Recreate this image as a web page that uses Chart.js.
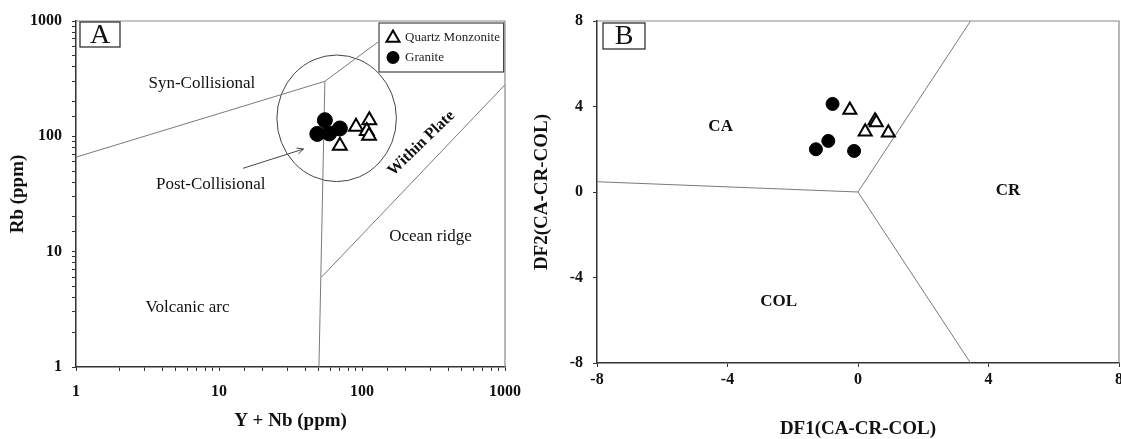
<!DOCTYPE html>
<html>
<head>
<meta charset="utf-8">
<script src="https://cdn.jsdelivr.net/npm/chart.js@4.4.1/dist/chart.umd.min.js"></script>
<style>
  body { margin: 0; background: #fff; width: 1121px; height: 439px; overflow: hidden; position: relative; }
  #wrapA { position: absolute; left: 0; top: 0; width: 560px; height: 439px; }
  #wrapB { position: absolute; left: 510px; top: 0; width: 631px; height: 439px; }
</style>
</head>
<body>
<div id="wrapA"><canvas id="chartA"></canvas></div>
<div id="wrapB"><canvas id="chartB"></canvas></div>
<script>
// ---- Panel A: Rb vs (Y+Nb), log-log ----
const quartzMonzoniteA = [[90.8, 121], [112.5, 138], [108, 111], [112, 101], [70, 83]];
const graniteA = [[55, 138], [48.7, 105], [59, 106], [70, 117]];
const synColLine = [[1, 66], [55, 300], [130, 660]];
const vagLine = [[55, 300], [50, 1]];
const wpgOrgLine = [[52, 6], [1000, 280]];
const postColCircle = { xMin: 25.4, xMax: 174, yMin: 40.5, yMax: 507 };
const postColArrow = [[14.7, 52.8], [39, 77.6]];
const logTicksA = [1, 10, 100, 1000];

// ---- Panel B: DF1 vs DF2 ----
const quartzMonzoniteB = [[-0.25, 3.84], [0.52, 3.33], [0.56, 3.25], [0.22, 2.82], [0.93, 2.77]];
const graniteB = [[-0.78, 4.12], [-0.91, 2.39], [-1.29, 2.0], [-0.12, 1.92]];
const caColLine = [[-8, 0.48], [0, 0]];
const caCrLine = [[0, 0], [3.45, 8]];
const colCrLine = [[0, 0], [3.45, -8]];
const linTicksB = [-8, -4, 0, 4, 8];

const serif = "'Liberation Serif', 'Times New Roman', serif";
Chart.defaults.font.family = serif;
Chart.defaults.color = '#111';
Chart.defaults.animation = false;

const pts = arr => arr.map(([x, y]) => ({ x, y }));

function boundary(arr) {
  return {
    data: pts(arr), showLine: true, fill: false,
    borderColor: '#7a7a7a', borderWidth: 1,
    pointRadius: 0, pointHoverRadius: 0
  };
}

function triangle(ctx, cx, cy, r) {
  ctx.beginPath();
  for (let i = 0; i < 3; i++) {
    const a = -Math.PI / 2 + i * 2 * Math.PI / 3;
    const px = cx + r * Math.cos(a), py = cy + r * Math.sin(a);
    i ? ctx.lineTo(px, py) : ctx.moveTo(px, py);
  }
  ctx.closePath();
}

// circle, arrow, region names, panel letter, legend box
const annotate = {
  id: 'annotate',
  beforeDatasetsDraw(chart, args, o) {
    const { ctx, scales: { x, y } } = chart;
    ctx.save();
    ctx.strokeStyle = '#444';
    ctx.lineWidth = 1;
    if (o.circle) {
      const l = x.getPixelForValue(o.circle.xMin), r = x.getPixelForValue(o.circle.xMax);
      const t = y.getPixelForValue(o.circle.yMax), b = y.getPixelForValue(o.circle.yMin);
      ctx.beginPath();
      ctx.ellipse((l + r) / 2, (t + b) / 2, (r - l) / 2, (b - t) / 2, 0, 0, Math.PI * 2);
      ctx.stroke();
    }
    if (o.arrow) {
      const [p0, p1] = o.arrow.map(([vx, vy]) => [x.getPixelForValue(vx), y.getPixelForValue(vy)]);
      ctx.beginPath(); ctx.moveTo(p0[0], p0[1]); ctx.lineTo(p1[0], p1[1]); ctx.stroke();
      const ang = Math.atan2(p1[1] - p0[1], p1[0] - p0[0]);
      ctx.beginPath();
      ctx.moveTo(p1[0] - 7 * Math.cos(ang - 0.45), p1[1] - 7 * Math.sin(ang - 0.45));
      ctx.lineTo(p1[0], p1[1]);
      ctx.lineTo(p1[0] - 7 * Math.cos(ang + 0.45), p1[1] - 7 * Math.sin(ang + 0.45));
      ctx.stroke();
    }
    ctx.restore();
  },
  afterDraw(chart, args, o) {
    const { ctx, chartArea: a, scales: { x, y } } = chart;
    ctx.save();
    // top and right frame
    ctx.strokeStyle = '#8a8a8a';
    ctx.lineWidth = 1.2;
    ctx.beginPath();
    ctx.moveTo(a.left, a.top); ctx.lineTo(a.right, a.top); ctx.lineTo(a.right, a.bottom);
    ctx.stroke();

    ctx.fillStyle = '#111';
    ctx.textAlign = 'center';
    ctx.textBaseline = 'middle';
    o.labels.forEach(l => {
      ctx.save();
      ctx.translate(x.getPixelForValue(l.x), y.getPixelForValue(l.y));
      if (l.rotate) ctx.rotate(l.rotate * Math.PI / 180);
      ctx.font = l.font;
      ctx.fillText(l.text, 0, 0);
      ctx.restore();
    });

    // panel letter box
    const p = o.panel;
    const bx = a.left + p.dx, by = a.top + p.dy;
    ctx.fillStyle = '#fff';
    ctx.fillRect(bx, by, p.w, p.h);
    ctx.strokeStyle = '#333';
    ctx.lineWidth = 1.3;
    ctx.strokeRect(bx, by, p.w, p.h);
    ctx.fillStyle = '#111';
    ctx.font = '28px ' + serif;
    ctx.fillText(p.text, bx + p.w / 2, by + p.h / 2 + 1);

    if (o.legend) {
      const lx = a.right - 126, ly = a.top + 2, lw = 124.6, lh = 49;
      ctx.fillStyle = '#fff';
      ctx.fillRect(lx, ly, lw, lh);
      ctx.strokeStyle = '#444';
      ctx.lineWidth = 1.2;
      ctx.strokeRect(lx, ly, lw, lh);
      // triangle entry
      ctx.lineWidth = 2;
      ctx.strokeStyle = '#000';
      triangle(ctx, lx + 14, ly + 15, 7.5);
      ctx.fillStyle = '#fff'; ctx.fill(); ctx.stroke();
      // circle entry
      ctx.fillStyle = '#000';
      ctx.beginPath(); ctx.arc(lx + 14, ly + 34.5, 6.5, 0, Math.PI * 2); ctx.fill();
      ctx.fillStyle = '#222';
      ctx.textAlign = 'left';
      ctx.font = '13px ' + serif;
      ctx.fillText(o.legend[0], lx + 26, ly + 15);
      ctx.fillText(o.legend[1], lx + 26, ly + 34.5);
    }
    ctx.restore();
  }
};

const tickFont = { family: serif, size: 16, weight: 'bold' };
const titleFont = { family: serif, size: 19, weight: 'bold', lineHeight: 1 };
const grid = { drawOnChartArea: false, drawTicks: true, tickLength: 4, color: '#333' };
const border = { display: true, color: '#333', width: 1.5 };

// keep plot areas where the reference has them
function fixX(h) {
  return s => { s.height = h; s.paddingLeft = 0; s.paddingRight = 0; };
}
function fixY(w) {
  return s => { s.width = w; s.paddingTop = 0; s.paddingBottom = 0; };
}

// ---- Chart A ----
new Chart(document.getElementById('chartA'), {
  type: 'scatter',
  data: {
    datasets: [
      { label: 'Granite', data: pts(graniteA), pointStyle: 'circle', pointRadius: 7.5,
        backgroundColor: '#000', borderColor: '#000', borderWidth: 1 },
      { label: 'Quartz Monzonite', data: pts(quartzMonzoniteA), pointStyle: 'triangle', pointRadius: 8,
        backgroundColor: '#fff', borderColor: '#000', borderWidth: 2 },
      boundary(synColLine),
      boundary(vagLine),
      boundary(wpgOrgLine)
    ]
  },
  options: {
    responsive: true,
    maintainAspectRatio: false,
    layout: { padding: { left: 0, top: 21, right: 55, bottom: 0 } },
    scales: {
      x: {
        type: 'logarithmic', min: 1, max: 1000,
        grid, border,
        afterFit: fixX(72),
        ticks: { autoSkip: false, maxRotation: 0, padding: 11, font: tickFont, color: '#111',
          callback: v => logTicksA.includes(v) ? String(v) : '' },
        title: { display: true, text: 'Y + Nb (ppm)', font: titleFont, color: '#111', padding: { top: 0, bottom: 8 } }
      },
      y: {
        type: 'logarithmic', min: 1, max: 1000,
        grid, border,
        afterFit: fixY(76),
        ticks: { autoSkip: false, padding: 10, font: tickFont, color: '#111',
          callback: v => logTicksA.includes(v) ? String(v) : '' },
        title: { display: true, text: 'Rb (ppm)', font: titleFont, color: '#111', padding: { top: 8.5, bottom: 0 } }
      }
    },
    plugins: {
      legend: { display: false },
      tooltip: { enabled: false },
      annotate: {
        circle: postColCircle,
        arrow: postColArrow,
        panel: { text: 'A', dx: 4, dy: 1, w: 40, h: 25 },
        legend: ['Quartz Monzonite', 'Granite'],
        labels: [
          { text: 'Syn-Collisional', x: 7.58, y: 288, font: '17px ' + serif },
          { text: 'Post-Collisional', x: 8.75, y: 38.5, font: '17px ' + serif },
          { text: 'Volcanic arc', x: 6.02, y: 3.31, font: '17px ' + serif },
          { text: 'Ocean ridge', x: 301, y: 13.6, font: '17px ' + serif },
          { text: 'Within Plate', x: 260, y: 87, rotate: -44, font: 'bold 16px ' + serif }
        ]
      }
    }
  },
  plugins: [annotate]
});

// ---- Chart B ----
new Chart(document.getElementById('chartB'), {
  type: 'scatter',
  data: {
    datasets: [
      { label: 'Granite', data: pts(graniteB), pointStyle: 'circle', pointRadius: 6.5,
        backgroundColor: '#000', borderColor: '#000', borderWidth: 1 },
      { label: 'Quartz Monzonite', data: pts(quartzMonzoniteB), pointStyle: 'triangle', pointRadius: 7.5,
        backgroundColor: '#fff', borderColor: '#000', borderWidth: 2 },
      boundary(caColLine),
      boundary(caCrLine),
      boundary(colCrLine)
    ]
  },
  options: {
    responsive: true,
    maintainAspectRatio: false,
    layout: { padding: { left: 0, top: 21, right: 22, bottom: 0 } },
    scales: {
      x: {
        type: 'linear', min: -8, max: 8,
        grid, border,
        afterFit: fixX(76),
        afterBuildTicks: s => { s.ticks = linTicksB.map(v => ({ value: v })); },
        ticks: { autoSkip: false, maxRotation: 0, padding: 3, font: tickFont, color: '#111' },
        title: { display: true, text: 'DF1(CA-CR-COL)', font: titleFont, color: '#111', padding: { top: 0, bottom: 0 } }
      },
      y: {
        type: 'linear', min: -8, max: 8,
        grid, border,
        afterFit: fixY(87),
        afterBuildTicks: s => { s.ticks = linTicksB.map(v => ({ value: v })); },
        ticks: { autoSkip: false, padding: 10, font: tickFont, color: '#111' },
        title: { display: true, text: 'DF2(CA-CR-COL)', font: titleFont, color: '#111', padding: { top: 22.5, bottom: 0 } }
      }
    },
    plugins: {
      legend: { display: false },
      tooltip: { enabled: false },
      annotate: {
        panel: { text: 'B', dx: 6, dy: 2, w: 42, h: 26 },
        labels: [
          { text: 'CA', x: -4.21, y: 3.06, font: 'bold 17px ' + serif },
          { text: 'CR', x: 4.6, y: 0.06, font: 'bold 17px ' + serif },
          { text: 'COL', x: -2.43, y: -5.13, font: 'bold 17px ' + serif }
        ]
      }
    }
  },
  plugins: [annotate]
});
</script>
</body>
</html>
